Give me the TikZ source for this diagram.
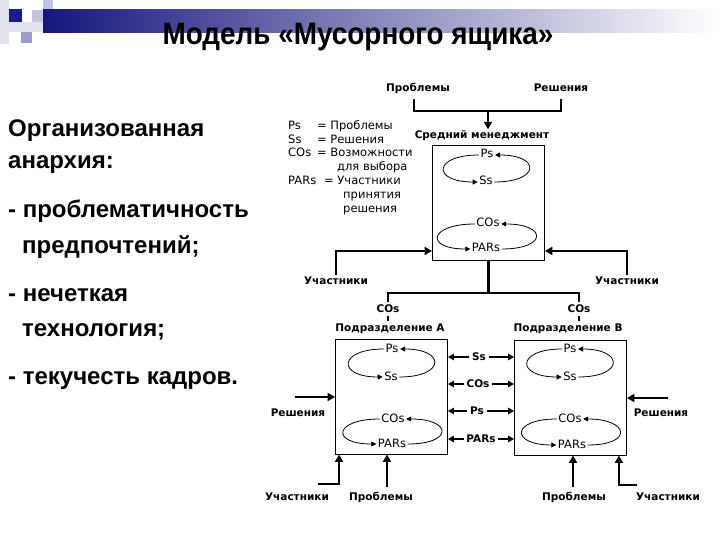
\documentclass[tikz,border=0pt]{standalone}
\usepackage{fontspec}
\setmainfont{Liberation Sans}
\newfontfamily\titlefont{Liberation Sans}[FakeStretch=0.9]
\newfontfamily\dgfont{DejaVu Sans}
\usetikzlibrary{arrows.meta,calc}
\definecolor{navy}{RGB}{22,22,125}
\definecolor{decoA}{RGB}{226,226,238}
\definecolor{decoB}{RGB}{196,196,224}
\definecolor{decoC}{RGB}{156,156,204}
\definecolor{decoD}{RGB}{26,26,140}
\newcommand\myloop[2]{%
  \draw[loopa] (#2.east) .. controls +(46,0) and +(46,0) .. (#1.east);
  \draw[loopa] (#1.west) .. controls +(-46,0) and +(-46,0) .. (#2.west);}
\begin{document}
\begin{tikzpicture}[x=1bp,y=-1bp,
  lab/.style={font=\dgfont\fontsize{11.5bp}{13bp}\selectfont, inner sep=1.5bp, text height=8bp, text depth=2bp},
  blab/.style={font=\dgfont\bfseries\fontsize{10.5bp}{12bp}\selectfont, inner sep=1.5bp, text height=8bp, text depth=2bp},
  mlab/.style={blab, inner sep=2.5bp},
  leg/.style={lab, anchor=west, inner sep=0pt},
  bigtext/.style={font=\bfseries\fontsize{24bp}{28bp}\selectfont, anchor=base west, inner sep=0pt},
  boxn/.style={draw, line width=0.9bp, minimum width=112bp, minimum height=115bp, inner sep=0pt},
  thk/.style={line width=2.5bp},
  bigarrow/.style={thk, -{Triangle[length=7.5bp,width=8bp]}},
  midarr/.style={line width=1.8bp, -{Triangle[length=6bp,width=6.5bp]}},
  loopa/.style={line width=0.8bp, -{Triangle[length=5bp,width=5bp]}},
]
\useasboundingbox (0,0) rectangle (720,540);
\fill[white] (0,0) rectangle (720,540);
% decoration
\fill[decoA] (0,0) rectangle (9,44);
\fill[decoA] (0,22) rectangle (43,32);
\fill[decoB] (32,10) rectangle (43,22);
\fill[decoB] (43,0) rectangle (53,10);
\fill[decoC] (21,32) rectangle (32,43);
\fill[decoD] (9,9) rectangle (22,22);
\shade[left color=navy, right color=white] (43,10) rectangle (720,33);
% title
\node[font=\titlefont\bfseries\fontsize{31bp}{36bp}\selectfont, anchor=base, inner sep=0pt] (title) at (358,45) {Модель «Мусорного ящика»};
% left text
\node[bigtext] (t1) at (8,137) {Организованная};
\node[bigtext] (t2) at (8,169) {анархия:};
\node[bigtext] (t3) at (8,218) {- проблематичность};
\node[bigtext] (t4) at (22,254) {предпочтений;};
\node[bigtext] (t5) at (8,301) {- нечеткая};
\node[bigtext] (t6) at (22,336) {технология;};
\node[bigtext] (t7) at (8,384) {- текучесть кадров.};
% legend
\node[leg] (l1) at (288,127) {Ps};
\node[leg] (l1b) at (317,127) {= Проблемы};
\node[leg] (l2) at (288,141) {Ss};
\node[leg] (l2b) at (317,141) {= Решения};
\node[leg] (l3) at (288,154) {COs};
\node[leg] (l3b) at (317,154) {= Возможности};
\node[leg] (l4) at (337,168) {для выбора};
\node[leg] (l5) at (288,182) {PARs};
\node[leg] (l5b) at (324,182) {= Участники};
\node[leg] (l6) at (343,196) {принятия};
\node[leg] (l7) at (343,210) {решения};
% top part
\node[blab] (prob) at (418,89) {Проблемы};
\node[blab] (resh) at (561,89) {Решения};
\coordinate (bj) at (488,111);
\draw[thk] ([xshift=-4bp,yshift=-3bp]prob.south) |- (bj) -| ([yshift=-3bp]resh.south);
\node[blab] (mgr) at (482,136) {Средний менеджмент};
\draw[bigarrow] (bj) -- (bj |- mgr.north);
\node[boxn] (box1) at (488.5,203) {};
\node[lab] (ps1) at (487,155) {Ps};
\node[lab] (ss1) at (486,182) {Ss};
\node[lab] (co1) at (488,224) {COs};
\node[lab] (pa1) at (486,249) {PARs};
\myloop{ps1}{ss1}
\myloop{co1}{pa1}
\node[blab] (uL) at (336,282) {Участники};
\node[blab] (uR) at (627,282) {Участники};
\draw[bigarrow] (uL.north) |- ($(box1.south west)+(0,-10)$);
\draw[bigarrow] (uR.north) |- ($(box1.south east)+(0,-10)$);
% split
\coordinate (hj) at (488.5,293);
\node[blab] (cA) at (388,309) {COs};
\node[blab] (cB) at (579,309) {COs};
\node[blab] (dA) at (390,328) {Подразделение А};
\node[blab] (dB) at (568,328) {Подразделение В};
\draw[thk] (box1.south) -- (hj);
\draw[thk] (cA.north) |- (hj) -| (cB.north);
\draw[thk] (cA.south) -- (cA.south |- dA.north);
\draw[thk] (cB.south) -- (cB.south |- dB.north);
% lower boxes
\node[boxn] (boxA) at (391.5,396.5) {};
\node[boxn] (boxB) at (570.5,397.5) {};
\node[lab] (psA) at (392,349) {Ps};
\node[lab] (ssA) at (391,377) {Ss};
\node[lab] (coA) at (393,419) {COs};
\node[lab] (paA) at (392,444) {PARs};
\node[lab] (psB) at (570,349) {Ps};
\node[lab] (ssB) at (570,377) {Ss};
\node[lab] (coB) at (570,419) {COs};
\node[lab] (paB) at (572,445) {PARs};
\myloop{psA}{ssA}
\myloop{coA}{paA}
\myloop{psB}{ssB}
\myloop{coB}{paB}
% middle exchange
\node[mlab] (m1) at (479,357) {Ss};
\node[mlab] (m2) at (478,384) {COs};
\node[mlab] (m3) at (477,411) {Ps};
\node[mlab] (m4) at (481,439) {PARs};
\foreach \m in {m1,m2,m3,m4}{
  \draw[midarr] (\m.west) -- (\m.west -| boxA.east);
  \draw[midarr] (\m.east) -- (\m.east -| boxB.west);
}
% side inputs
\node[blab] (rA) at (298,413) {Решения};
\node[blab] (rB) at (661,413) {Решения};
\coordinate (rAs) at (295,397);
\coordinate (rBs) at (668,398);
\draw[bigarrow] (rAs) -- (rAs -| boxA.west);
\draw[bigarrow] (rBs) -- (rBs -| boxB.east);
% bottom inputs
\node[blab] (uA) at (297,497) {Участники};
\node[blab] (pA) at (381,497) {Проблемы};
\node[blab] (pB) at (574,497) {Проблемы};
\node[blab] (uB) at (668,497) {Участники};
\coordinate (uAs) at (318,484);
\coordinate (pAt) at (387,487);
\coordinate (pBt) at (573,487);
\coordinate (uBs) at (637,485);
\draw[bigarrow] (uAs) -| ($(boxA.south west)+(4,0)$);
\draw[bigarrow] (pAt) -- (pAt |- boxA.south);
\draw[bigarrow] (pBt) -- (pBt |- boxB.south);
\draw[bigarrow] (uBs) -| ($(boxB.south east)+(-8,0)$);
\end{tikzpicture}
\end{document}
